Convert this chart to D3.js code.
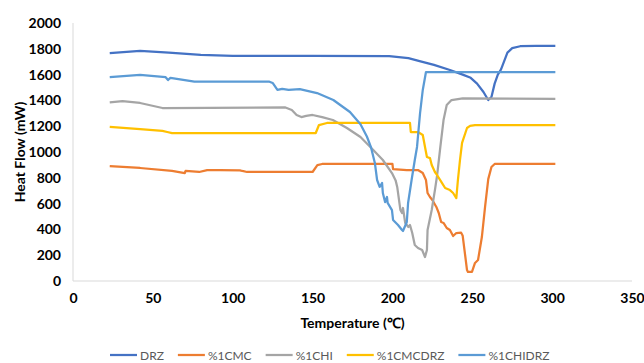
<!DOCTYPE html>
<html>
<head>
<meta charset="utf-8">
<script src="https://cdn.jsdelivr.net/npm/d3@7"></script>
<style>
  body { margin: 0; background: #fff; }
  text { font-family: Lato, "Open Sans", sans-serif; }
</style>
</head>
<body>
<script>

// series names + colours (excel office palette)
var seriesNames = ['DRZ', '%1CMC', '%1CHI', '%1CMCDRZ', '%1CHIDRZ'];
var seriesColors = ['#4472C4', '#ED7D31', '#A5A5A5', '#FFC000', '#5B9BD5'];

var xTicks = [0, 50, 100, 150, 200, 250, 300, 350];
var yTicks = [0, 200, 400, 600, 800, 1000, 1200, 1400, 1600, 1800, 2000];

// temperature (C) / heat flow (mW)
var drzT = [23, 42, 60, 80, 100, 150, 198, 210, 217, 226, 236, 244, 249, 253, 257, 260, 262, 264, 266, 268, 272, 275, 280, 290, 302];
var drzH = [1767, 1783, 1770, 1752, 1746, 1746, 1744, 1728, 1705, 1675, 1636, 1600, 1575, 1530, 1465, 1403, 1426, 1530, 1600, 1640, 1770, 1805, 1820, 1822, 1822];

var cmcT = [23, 42, 62, 70, 70.5, 79, 84, 92, 104.5, 106, 109, 150, 153, 156, 200, 200.4, 209, 216, 219, 221, 222, 223.5, 225, 227.5, 229, 230.5, 232, 234, 236, 238, 240, 243, 244, 246.7, 247.3, 249.8, 251.7, 253.6, 256, 258, 260, 262, 264, 302];
var cmcH = [891, 876, 853, 837, 853, 845, 860, 860, 858, 853, 845, 845, 899, 907, 907, 868, 860, 860, 837, 783, 682, 651, 628, 574, 527, 457, 450, 411, 395, 349, 372, 375, 350, 85, 70, 70, 140, 163, 341, 574, 790, 884, 907, 907];

var chiT = [23, 31, 42, 56, 133, 137, 140, 143, 146, 150, 156, 162.7, 171.5, 180, 188, 194, 199.7, 202, 203, 205, 206, 206.6, 208, 210, 211, 212.4, 214, 216, 218.6, 220.4, 221.6, 222, 224.6, 226.6, 228, 230, 232, 234, 237, 244, 302];
var chiH = [1385, 1395, 1380, 1341, 1345, 1326, 1287, 1271, 1280, 1287, 1271, 1248, 1186, 1116, 1016, 938, 837, 780, 729, 550, 527, 566, 450, 419, 434, 372, 279, 256, 240, 186, 240, 395, 550, 705, 820, 1039, 1248, 1364, 1403, 1415, 1411];

var cmcdrzT = [23, 42, 56, 59, 62, 152, 154, 159, 211, 211.5, 216, 219, 220.4, 221.6, 223.5, 224.6, 226.6, 228, 230.5, 233, 236, 238, 240, 241, 242.3, 243.6, 246.7, 248.6, 251.7, 302];
var cmcdrzH = [1194, 1178, 1163, 1155, 1147, 1147, 1209, 1225, 1225, 1155, 1155, 1132, 1039, 961, 953, 899, 845, 820, 770, 721, 705, 682, 643, 783, 938, 1070, 1186, 1202, 1209, 1209];

var chidrzT = [23, 42, 58, 59.5, 61, 76, 123, 125, 128, 131, 135, 142, 152.8, 163, 173.4, 180, 184, 186.5, 189, 190.4, 192, 193.5, 194, 195.4, 196.6, 197, 199.7, 200.4, 203.5, 206, 206.6, 209, 209.8, 212, 214, 215.4, 217.3, 219, 221, 302];
var chidrzH = [1581, 1597, 1580, 1558, 1575, 1545, 1545, 1535, 1481, 1490, 1481, 1488, 1457, 1403, 1310, 1215, 1120, 1040, 915, 783, 729, 760, 682, 612, 651, 605, 550, 473, 434, 395, 388, 457, 605, 783, 938, 1039, 1302, 1481, 1620, 1620];

var allT = [drzT, cmcT, chiT, cmcdrzT, chidrzT];
var allH = [drzH, cmcH, chiH, cmcdrzH, chidrzH];

var W = 644, H = 363;
var svg = d3.select('body').append('svg')
    .attr('width', W)
    .attr('height', H);

var x = d3.scaleLinear().domain([0, 350]).range([73, 632]);
var y = d3.scaleLinear().domain([0, 2000]).range([281, 23]);

// axis lines
svg.append('line')
    .attr('x1', x(0)).attr('x2', x(350))
    .attr('y1', y(0)).attr('y2', y(0))
    .attr('stroke', '#D9D9D9').attr('stroke-width', 1);
svg.append('line')
    .attr('x1', x(0)).attr('x2', x(0))
    .attr('y1', y(0)).attr('y2', y(2000))
    .attr('stroke', '#D9D9D9').attr('stroke-width', 1);

var gx = svg.append('g')
    .attr('transform', 'translate(0,' + y(0) + ')')
    .call(d3.axisBottom(x).tickValues(xTicks).tickFormat(d3.format('d')).tickSize(0).tickPadding(12));
var gy = svg.append('g')
    .attr('transform', 'translate(' + x(0) + ',0)')
    .call(d3.axisLeft(y).tickValues(yTicks).tickFormat(d3.format('d')).tickSize(0).tickPadding(12));

[gx, gy].forEach(function(g) {
  g.select('.domain').remove();
  g.selectAll('text')
      .attr('font-family', 'Lato, sans-serif')
      .attr('font-size', 14)
      .attr('font-weight', 'bold')
      .attr('fill', '#000');
});

// titles
svg.append('text')
    .attr('x', (x(0) + x(350)) / 2)
    .attr('y', 328)
    .attr('text-anchor', 'middle')
    .attr('font-size', 14)
    .attr('font-weight', 'bold')
    .attr('fill', '#000')
    .text('Temperature (℃)');

svg.append('text')
    .attr('transform', 'translate(25,' + ((y(0) + y(2000)) / 2) + ') rotate(-90)')
    .attr('text-anchor', 'middle')
    .attr('font-size', 14)
    .attr('font-weight', 'bold')
    .attr('fill', '#000')
    .text('Heat Flow (mW)');

// lines
var line = d3.line()
    .x(function(d) { return x(d[0]); })
    .y(function(d) { return y(d[1]); });

seriesNames.forEach(function(name, i) {
  var pts = allT[i].map(function(t, j) { return [t, allH[i][j]]; });
  svg.append('path')
      .datum(pts)
      .attr('d', line)
      .attr('fill', 'none')
      .attr('stroke', seriesColors[i])
      .attr('stroke-width', 2.25)
      .attr('stroke-linejoin', 'round');
});

// legend
var lx = 110, ly = 355;
seriesNames.forEach(function(name, i) {
  svg.append('line')
      .attr('x1', lx).attr('x2', lx + 27)
      .attr('y1', ly).attr('y2', ly)
      .attr('stroke', seriesColors[i])
      .attr('stroke-width', 2.25);
  var t = svg.append('text')
      .attr('x', lx + 30)
      .attr('y', ly + 4.5)
      .attr('font-size', 12)
      .attr('fill', '#595959')
      .text(name);
  lx += 30 + t.node().getComputedTextLength() + 14;
});

</script>
</body>
</html>
